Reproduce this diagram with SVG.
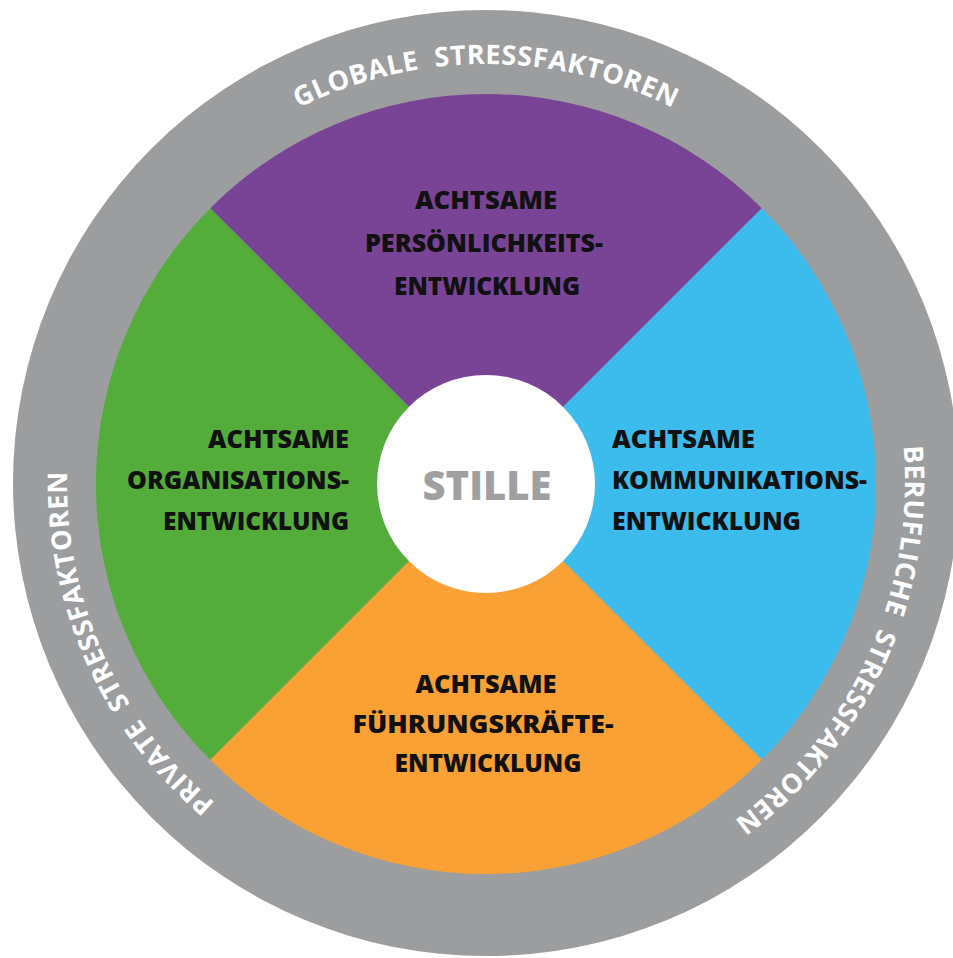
<svg xmlns="http://www.w3.org/2000/svg" xmlns:xlink="http://www.w3.org/1999/xlink" width="953" height="958" viewBox="0 0 953 958">
  <style>
    .lbl { font-family: "Open Sans", "Noto Sans", "Liberation Sans", sans-serif; font-weight: 800; font-size: 25px; fill: #111111; }
    .ring { font-family: "Open Sans", "Noto Sans", "Liberation Sans", sans-serif; font-weight: 700; font-size: 27px; fill: #ffffff; }
    .mid { text-anchor: middle; }
    .end { text-anchor: end; }
  </style>
  <defs>
    <path id="ringPath" d="M486,902 A419,419 0 1 1 486,64 A419,419 0 1 1 486,902"/>
  </defs>
  <rect x="0" y="0" width="953" height="958" fill="#ffffff"/>

  <g id="outer-ring">
    <circle cx="486" cy="483" r="473" fill="#9b9d9f"/>
    <text class="ring mid" letter-spacing="0.6" word-spacing="8"><textPath xlink:href="#ringPath" href="#ringPath" startOffset="1316">GLOBALE STRESSFAKTOREN</textPath></text>
    <text class="ring mid" letter-spacing="0.6" word-spacing="8"><textPath xlink:href="#ringPath" href="#ringPath" startOffset="2152">BERUFLICHE STRESSFAKTOREN</textPath></text>
    <text class="ring mid" letter-spacing="0.6" word-spacing="8"><textPath xlink:href="#ringPath" href="#ringPath" startOffset="482">PRIVATE STRESSFAKTOREN</textPath></text>
  </g>

  <g id="persoenlichkeit">
    <path d="M486,484 L210.2,208.2 A390,390 0 0 1 761.8,208.2 Z" fill="#7a4496"/>
    <text class="lbl mid" x="486" y="209" textLength="142" lengthAdjust="spacingAndGlyphs">ACHTSAME</text>
    <text class="lbl mid" x="484" y="252" textLength="238" lengthAdjust="spacingAndGlyphs">PERSÖNLICHKEITS-</text>
    <text class="lbl mid" x="487" y="295" textLength="186" lengthAdjust="spacingAndGlyphs">ENTWICKLUNG</text>
  </g>

  <g id="kommunikation">
    <path d="M486,484 L761.8,208.2 A390,390 0 0 1 761.8,759.8 Z" fill="#3bbced"/>
    <text class="lbl" x="612" y="448" textLength="143" lengthAdjust="spacingAndGlyphs">ACHTSAME</text>
    <text class="lbl" x="612" y="489" textLength="255" lengthAdjust="spacingAndGlyphs">KOMMUNIKATIONS-</text>
    <text class="lbl" x="612" y="530" textLength="189" lengthAdjust="spacingAndGlyphs">ENTWICKLUNG</text>
  </g>

  <g id="fuehrung">
    <path d="M486,484 L761.8,759.8 A390,390 0 0 1 210.2,759.8 Z" fill="#f9a134"/>
    <text class="lbl mid" x="486" y="693" textLength="141" lengthAdjust="spacingAndGlyphs">ACHTSAME</text>
    <text class="lbl mid" x="483" y="733" textLength="261" lengthAdjust="spacingAndGlyphs">FÜHRUNGSKRÄFTE-</text>
    <text class="lbl mid" x="488" y="772" textLength="187" lengthAdjust="spacingAndGlyphs">ENTWICKLUNG</text>
  </g>

  <g id="organisation">
    <path d="M486,484 L210.2,759.8 A390,390 0 0 1 210.2,208.2 Z" fill="#54ad3a"/>
    <text class="lbl end" x="349" y="448" textLength="141" lengthAdjust="spacingAndGlyphs">ACHTSAME</text>
    <text class="lbl end" x="349" y="489" textLength="222" lengthAdjust="spacingAndGlyphs">ORGANISATIONS-</text>
    <text class="lbl end" x="349" y="530" textLength="186" lengthAdjust="spacingAndGlyphs">ENTWICKLUNG</text>
  </g>

  <g id="stille">
    <circle cx="486" cy="484" r="109" fill="#ffffff"/>
    <text class="mid" x="487" y="500" font-family="Open Sans, Noto Sans, Liberation Sans, sans-serif" font-weight="800" font-size="41" fill="#a0a0a0" textLength="129" lengthAdjust="spacingAndGlyphs">STILLE</text>
  </g>
</svg>
